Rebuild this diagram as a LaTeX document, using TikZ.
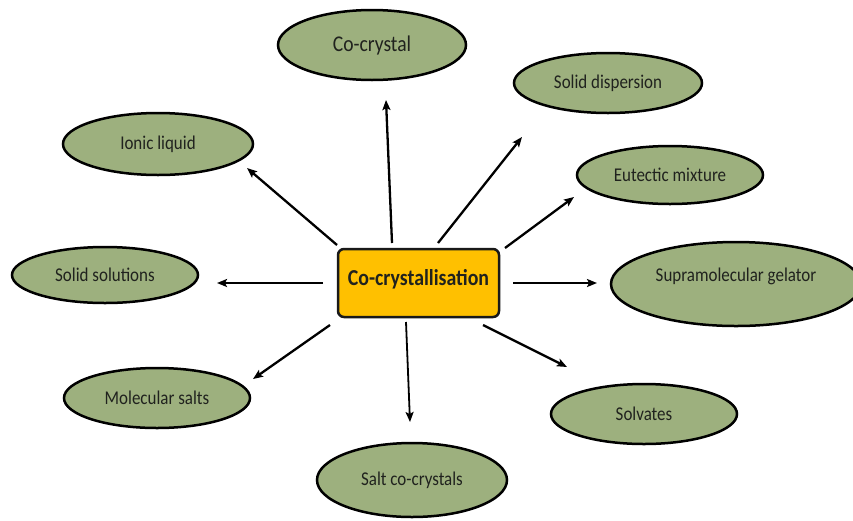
\documentclass[tikz,border=0pt]{standalone}
\usepackage{fontspec}
\setmainfont{Carlito}[FakeStretch=0.87]
\usetikzlibrary{shapes.geometric,arrows.meta}
\definecolor{ellfill}{RGB}{157,176,126}
\definecolor{boxfill}{RGB}{255,192,0}
\definecolor{txt}{RGB}{32,34,30}
\tikzset{
  ell/.style={ellipse, draw=black, line width=2.5pt, fill=ellfill, inner sep=0pt,
    text=txt, font=\fontsize{19.5}{22}\selectfont},
  centerbox/.style={rectangle, rounded corners=6pt, draw=black!90, line width=2.5pt,
    fill=boxfill, minimum width=161pt, minimum height=68pt, inner sep=0pt,
    text=txt, font=\bfseries\fontsize{22.8}{26}\selectfont},
  arr/.style={line width=2.3pt, -{Stealth[length=10pt,width=8pt,inset=2pt]}}
}
\begin{document}
\begin{tikzpicture}[x=1pt,y=-1pt]
\useasboundingbox (0,0) rectangle (853,520);
\clip (0,0) rectangle (853,520);
\fill[white] (0,0) rectangle (853,520);

\node[centerbox,
  label={[text=txt, font=\bfseries\fontsize{22.8}{26}\selectfont, yshift=4pt]center:Co-crystallisation}] (box) at (418.5,283) {};

\node[ell, minimum width=188pt, minimum height=70pt, font=\fontsize{22.5}{25}\selectfont] (co) at (372,45) {Co-crystal};
\node[ell, minimum width=188pt, minimum height=60pt] (sd) at (608,83) {Solid dispersion};
\node[ell, minimum width=186pt, minimum height=58pt] (eu) at (670,175) {Eutectic mixture};
\node[ell, minimum width=250pt, minimum height=84pt,
  label={[text=txt, font=\fontsize{19.5}{22}\selectfont, yshift=8pt]center:Supramolecular gelator}] (sg) at (736,284) {};
\node[ell, minimum width=186pt, minimum height=60pt] (sv) at (644,414) {Solvates};
\node[ell, minimum width=190pt, minimum height=74pt] (sc) at (412,480) {Salt co-crystals};
\node[ell, minimum width=186pt, minimum height=60pt] (ms) at (157,398) {Molecular salts};
\node[ell, minimum width=186pt, minimum height=56pt] (ss) at (105,275) {Solid solutions};
\node[ell, minimum width=190pt, minimum height=62pt] (il) at (158,144) {Ionic liquid};

\draw[arr] ([shift={(-26.5,-40)}]box.center) -- ([shift={(14,55)}]co.center);
\draw[arr] ([shift={(19.5,-40)}]box.center) -- ([shift={(-86,54)}]sd.center);
\draw[arr] ([shift={(86.5,-35)}]box.center) -- ([shift={(-96,22)}]eu.center);
\draw[arr] ([shift={(94.5,0)}]box.center) -- ([shift={(-139,-1)}]sg.center);
\draw[arr] ([shift={(64.5,42)}]box.center) -- ([shift={(-77,-47)}]sv.center);
\draw[arr, line width=1.8pt] ([shift={(-12.5,39)}]box.center) -- ([shift={(-2,-58)}]sc.center);
\draw[arr] ([shift={(-88.5,42)}]box.center) -- ([shift={(96,-19)}]ms.center);
\draw[arr] ([shift={(-95.5,0)}]box.center) -- ([shift={(112,8)}]ss.center);
\draw[arr] ([shift={(-81.5,-38)}]box.center) -- ([shift={(89,24)}]il.center);
\end{tikzpicture}
\end{document}
